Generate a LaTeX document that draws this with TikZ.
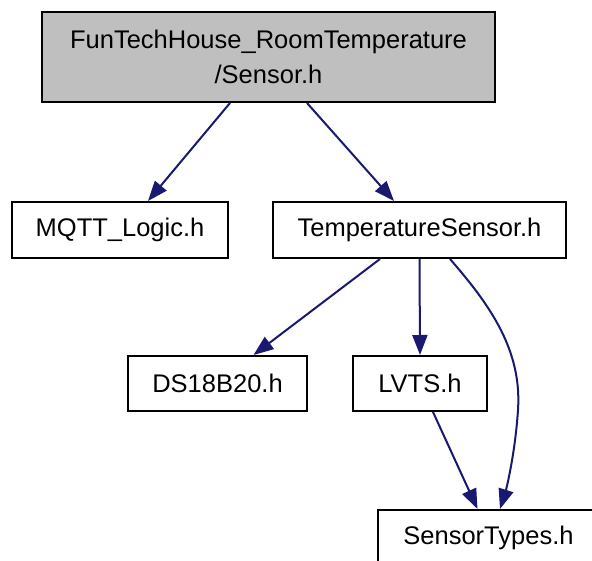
\documentclass[tikz,border=0pt]{standalone}
\usepackage{fontspec}
\setmainfont{Liberation Sans}
\usetikzlibrary{arrows.meta}
\definecolor{edgeblue}{HTML}{191970}
\definecolor{rootgray}{HTML}{BFBFBF}
\begin{document}
\begin{tikzpicture}[x=1pt,y=-1pt,
  filebox/.style={draw=black,line width=2pt,fill=white,inner sep=0pt,
    font=\fontsize{25.5}{35}\selectfont,align=center},
  dep/.style={draw=edgeblue,line width=2pt,
    -{Triangle[length=20pt,width=15pt]},shorten >=0pt}]
\useasboundingbox (0,0) rectangle (592,561);
\clip (0,0) rectangle (592,561);
\fill[white] (0,0) rectangle (592,561);

\node[filebox,fill=rootgray,minimum width=453pt,minimum height=90pt] (root) at (268.5,57)
  {FunTechHouse\_RoomTemperature\\/Sensor.h};
\node[filebox,minimum width=216pt,minimum height=56pt] (mqtt) at (120,230) {MQTT\_Logic.h};
\node[filebox,minimum width=293pt,minimum height=56pt] (ts) at (419.5,230) {TemperatureSensor.h};
\node[filebox,minimum width=179pt,minimum height=55pt] (ds) at (217.5,383.5) {DS18B20.h};
\node[filebox,minimum width=134pt,minimum height=55pt] (lvts) at (420,383.5) {LVTS.h};
\node[filebox,minimum width=221pt,minimum height=56pt] (st) at (488.5,538) {SensorTypes.h};

\draw[dep] ([xshift=-38.5pt]root.south) -- ([xshift=28pt]mqtt.north);
\draw[dep] ([xshift=38.5pt]root.south) -- ([xshift=-25.5pt]ts.north);
\draw[dep] ([xshift=-39.5pt]ts.south) -- ([xshift=36pt]ds.north);
\draw[dep] (ts.south) -- (lvts.north);
\draw[dep] ([xshift=30.5pt]ts.south) .. controls (490,305) and (522,350) .. (518,410)
  .. controls (515,455) and (506,490) .. ([xshift=11.5pt]st.north);
\draw[dep] ([xshift=13pt]lvts.south) -- ([xshift=-11pt]st.north);
\end{tikzpicture}
\end{document}
